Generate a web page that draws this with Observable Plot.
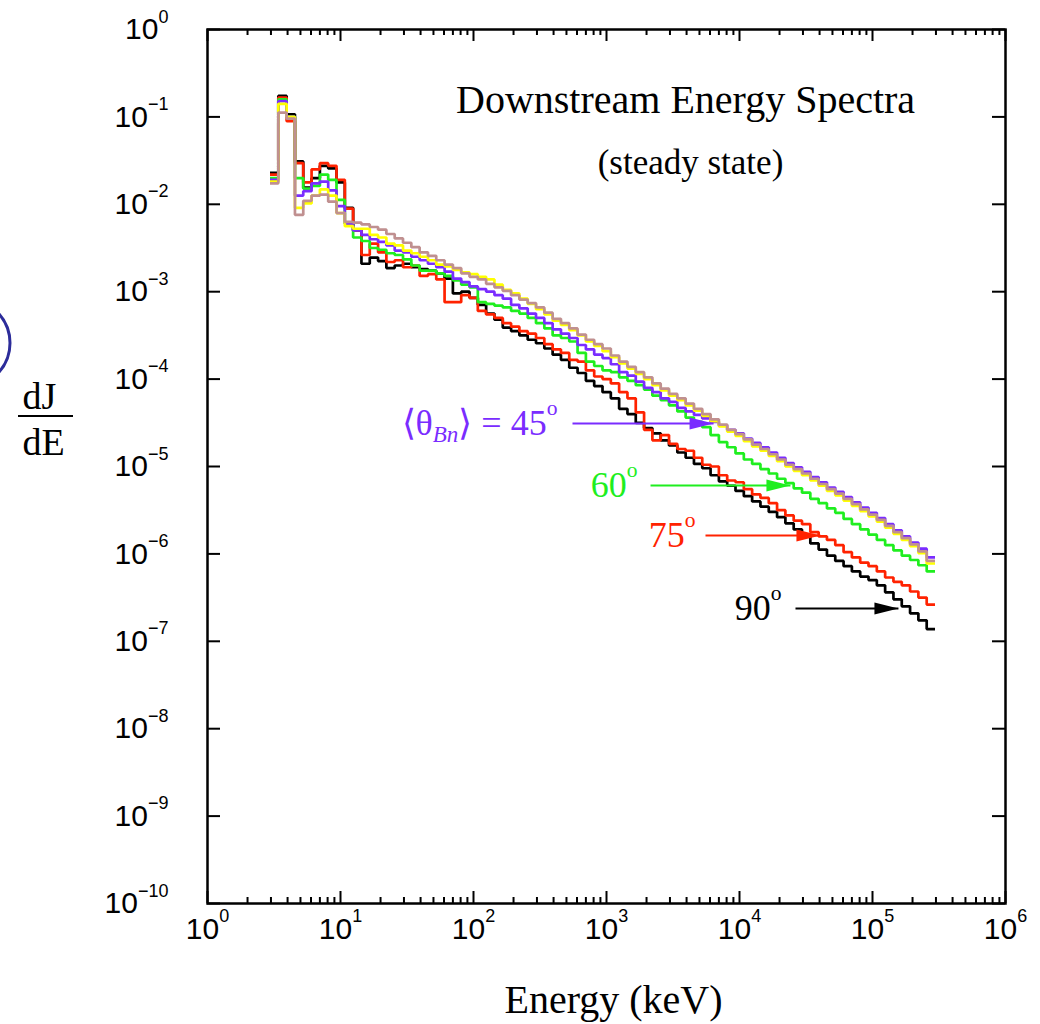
<!DOCTYPE html>
<html><head><meta charset="utf-8">
<script src="https://cdn.jsdelivr.net/npm/d3@7"></script>
<script src="https://cdn.jsdelivr.net/npm/@observablehq/plot@0.6"></script>
<style>
body{margin:0;background:#fff;}
#chart{width:1040px;height:1024px;overflow:hidden;}
</style>
</head><body><div id="chart"></div>
<script>
// ---------- data ----------
// histogram bins: log-uniform, 16 per decade, first edge at 10^0.47 keV
const binsPerDecade = 16;
const firstEdgeLog10 = 0.47;
const nBins = 80;

// log10(dJ/dE) per bin
const logFlux90 = [-1.64,-0.76,-0.97,-1.51,-1.81,-1.70,-1.56,-1.59,-1.75,-2.04,
  -2.30,-2.68,-2.61,-2.65,-2.73,-2.70,-2.68,-2.72,-2.74,-2.76,
  -2.79,-2.85,-3.02,-3.00,-3.07,-3.15,-3.25,-3.32,-3.41,-3.45,
  -3.50,-3.55,-3.59,-3.65,-3.72,-3.78,-3.87,-3.93,-4.02,-4.08,
  -4.15,-4.22,-4.34,-4.40,-4.50,-4.56,-4.62,-4.70,-4.76,-4.84,
  -4.90,-4.97,-5.02,-5.10,-5.17,-5.22,-5.28,-5.34,-5.40,-5.46,
  -5.52,-5.58,-5.65,-5.72,-5.80,-5.88,-5.95,-6.02,-6.08,-6.14,
  -6.20,-6.26,-6.30,-6.36,-6.44,-6.52,-6.60,-6.68,-6.76,-6.86];
const logFlux75 = [-1.66,-0.78,-1.05,-1.53,-1.75,-1.60,-1.53,-1.56,-1.72,-2.05,
  -2.30,-2.58,-2.45,-2.55,-2.66,-2.64,-2.72,-2.70,-2.82,-2.80,
  -2.86,-3.12,-3.12,-3.04,-3.07,-3.22,-3.26,-3.30,-3.36,-3.40,
  -3.45,-3.48,-3.53,-3.60,-3.66,-3.70,-3.78,-3.80,-3.90,-3.97,
  -4.00,-4.05,-4.15,-4.22,-4.38,-4.58,-4.70,-4.64,-4.74,-4.80,
  -4.82,-4.90,-4.98,-5.00,-5.10,-5.16,-5.18,-5.26,-5.32,-5.36,
  -5.42,-5.50,-5.56,-5.62,-5.66,-5.75,-5.80,-5.84,-5.90,-5.98,
  -6.04,-6.10,-6.14,-6.20,-6.27,-6.32,-6.36,-6.43,-6.50,-6.58];
const logFlux60 = [-1.70,-0.80,-1.00,-1.70,-1.82,-1.79,-1.66,-1.72,-1.95,-2.22,
  -2.38,-2.42,-2.50,-2.52,-2.56,-2.58,-2.63,-2.70,-2.76,-2.76,
  -2.79,-2.82,-2.87,-2.92,-2.95,-3.12,-3.14,-3.16,-3.18,-3.22,
  -3.25,-3.30,-3.36,-3.42,-3.50,-3.53,-3.57,-3.70,-3.80,-3.85,
  -3.90,-3.92,-3.98,-4.02,-4.07,-4.12,-4.19,-4.24,-4.30,-4.37,
  -4.44,-4.49,-4.55,-4.64,-4.72,-4.78,-4.85,-4.92,-4.97,-5.03,
  -5.08,-5.14,-5.19,-5.25,-5.30,-5.37,-5.42,-5.48,-5.53,-5.60,
  -5.66,-5.72,-5.78,-5.84,-5.90,-5.96,-6.02,-6.07,-6.13,-6.20];
const logFlux45 = [-1.72,-0.82,-1.00,-1.90,-1.85,-1.76,-1.74,-1.84,-2.02,-2.22,
  -2.30,-2.35,-2.40,-2.43,-2.47,-2.53,-2.55,-2.60,-2.64,-2.68,
  -2.72,-2.77,-2.85,-2.89,-2.94,-2.97,-3.00,-3.04,-3.08,-3.15,
  -3.19,-3.25,-3.30,-3.36,-3.43,-3.48,-3.53,-3.61,-3.66,-3.72,
  -3.76,-3.83,-3.92,-3.96,-4.03,-4.10,-4.15,-4.22,-4.26,-4.33,
  -4.37,-4.41,-4.45,-4.49,-4.53,-4.58,-4.62,-4.68,-4.73,-4.78,
  -4.84,-4.90,-4.96,-5.01,-5.06,-5.12,-5.18,-5.24,-5.29,-5.35,
  -5.41,-5.47,-5.53,-5.59,-5.66,-5.73,-5.80,-5.87,-5.94,-6.04];
const logFluxYellow = [-1.74,-0.85,-1.00,-2.04,-1.99,-1.90,-1.83,-1.90,-2.10,-2.25,
  -2.28,-2.28,-2.35,-2.38,-2.45,-2.47,-2.53,-2.56,-2.60,-2.64,
  -2.69,-2.71,-2.75,-2.78,-2.80,-2.83,-2.86,-2.92,-2.98,-3.02,
  -3.08,-3.14,-3.20,-3.26,-3.33,-3.38,-3.44,-3.50,-3.57,-3.62,
  -3.68,-3.75,-3.82,-3.88,-3.94,-4.00,-4.07,-4.13,-4.19,-4.24,
  -4.30,-4.36,-4.42,-4.48,-4.54,-4.60,-4.65,-4.71,-4.77,-4.82,
  -4.88,-4.94,-5.00,-5.05,-5.10,-5.16,-5.22,-5.28,-5.33,-5.39,
  -5.45,-5.51,-5.57,-5.63,-5.70,-5.77,-5.84,-5.91,-5.99,-6.11];
const logFluxRosy = [-1.76,-0.95,-1.02,-2.12,-1.96,-1.90,-1.89,-1.97,-2.10,-2.20,
  -2.21,-2.23,-2.26,-2.29,-2.34,-2.39,-2.44,-2.49,-2.55,-2.59,
  -2.64,-2.69,-2.73,-2.79,-2.83,-2.86,-2.91,-2.95,-2.99,-3.04,
  -3.09,-3.13,-3.18,-3.24,-3.31,-3.36,-3.42,-3.49,-3.55,-3.60,
  -3.65,-3.73,-3.80,-3.86,-3.92,-3.98,-4.05,-4.11,-4.17,-4.22,
  -4.28,-4.34,-4.40,-4.46,-4.52,-4.58,-4.63,-4.69,-4.75,-4.80,
  -4.86,-4.92,-4.98,-5.03,-5.08,-5.14,-5.20,-5.26,-5.31,-5.37,
  -5.43,-5.49,-5.55,-5.61,-5.68,-5.75,-5.82,-5.89,-5.97,-6.08];

const seriesNames  = ["90°", "75°", "60°", "45°", "yellow", "rosy"];
const seriesLog    = [logFlux90, logFlux75, logFlux60, logFlux45, logFluxYellow, logFluxRosy];
const seriesColors = ["#000000", "#ff2200", "#1fee1f", "#7a2cff", "#ffff00", "#c09090"];

// axis ticks
const xMajor = [1, 10, 100, 1e3, 1e4, 1e5, 1e6];
const xTickLabels = ["10^{0}", "10^{1}", "10^{2}", "10^{3}", "10^{4}", "10^{5}", "10^{6}"];
const xMinorMultipliers = [2, 3, 4, 5, 6, 7, 8, 9];
const yMajor = [1, 1e-1, 1e-2, 1e-3, 1e-4, 1e-5, 1e-6, 1e-7, 1e-8, 1e-9, 1e-10];
const yTickLabels = ["10^{0}", "10^{−1}", "10^{−2}", "10^{−3}", "10^{−4}", "10^{−5}",
  "10^{−6}", "10^{−7}", "10^{−8}", "10^{−9}", "10^{−10}"];

// annotations (energy keV, dJ/dE)
const labels = [
  {text: "⟨θ_{Bn}⟩ = 45^{o}", x: 428,   y: 3.10e-5, color: "#7a2cff"},
  {text: "60^{o}",            x: 1710,  y: 6.07e-6, color: "#1fee1f"},
  {text: "75^{o}",            x: 4670,  y: 1.62e-6, color: "#ff2200"},
  {text: "90^{o}",            x: 20700, y: 2.37e-7, color: "#000000"}
];
const arrows = [
  {x1: 555,   x2: 6380,   y: 3.10e-5, color: "#7a2cff"},
  {x1: 2143,  x2: 24150,  y: 6.07e-6, color: "#1fee1f"},
  {x1: 5550,  x2: 40600,  y: 1.62e-6, color: "#ff2200"},
  {x1: 26360, x2: 156700, y: 2.37e-7, color: "#000000"}
];

// ---------- build ----------
const edges = d3.range(nBins + 1).map(k => 10 ** (firstEdgeLog10 + k / binsPerDecade));
function stepTable(logs, name) {
  const rows = logs.map((v, k) => ({E: edges[k], flux: 10 ** v, series: name}));
  rows.push({E: edges[logs.length], flux: 10 ** logs[logs.length - 1], series: name});
  return rows;
}
const xMinor = xMajor.slice(0, -1).flatMap(d => xMinorMultipliers.map(m => d * m));
const xLab = new Map(xMajor.map((v, i) => [v, xTickLabels[i]]));
const yLab = new Map(yMajor.map((v, i) => [v, yTickLabels[i]]));

const W = 1040, H = 1024, mL = 207, mR = 35, mT = 29, mB = 121;
const fW = W - mL - mR, fH = H - mT - mB;
const serif = "'Liberation Serif','Times New Roman',Times,serif";
const sans = "'Liberation Sans',Arial,Helvetica,sans-serif";

const arrowHead = {
  draw(ctx, size) {
    const s = Math.sqrt(size / Math.PI);
    ctx.moveTo(0, 0);
    ctx.lineTo(-2.4 * s, -0.6 * s);
    ctx.lineTo(-2.4 * s, 0.6 * s);
    ctx.closePath();
  }
};

const marks = [
  Plot.axisX(xMajor, {tickSize: 0, tickPadding: 14, tickFormat: d => xLab.get(d), label: null, fontSize: 30, fontFamily: sans}),
  Plot.axisY(yMajor, {tickSize: 0, tickPadding: 39, tickFormat: d => yLab.get(d), label: null, fontSize: 30, fontFamily: sans}),
  // inward ticks on all four sides
  Plot.tickX(xMajor, {x: d => d, insetTop: fH - 12, stroke: "#000", strokeWidth: 2}),
  Plot.tickX(xMinor, {x: d => d, insetTop: fH - 6, stroke: "#000", strokeWidth: 2}),
  Plot.tickX(xMajor, {x: d => d, insetBottom: fH - 12, stroke: "#000", strokeWidth: 2}),
  Plot.tickX(xMinor, {x: d => d, insetBottom: fH - 6, stroke: "#000", strokeWidth: 2}),
  Plot.tickY(yMajor, {y: d => d, insetRight: fW - 13, stroke: "#000", strokeWidth: 2}),
  Plot.tickY(yMajor, {y: d => d, insetLeft: fW - 13, stroke: "#000", strokeWidth: 2})
];
seriesLog.forEach((logs, i) => {
  marks.push(Plot.line(stepTable(logs, seriesNames[i]), {
    x: "E", y: "flux", curve: "step-after", stroke: seriesColors[i], strokeWidth: 2.7,
    strokeLinejoin: "miter", strokeLinecap: "butt"
  }));
});
arrows.forEach(a => {
  marks.push(Plot.link([a], {x1: "x1", x2: "x2", y1: "y", y2: "y", stroke: a.color, strokeWidth: 2}));
  marks.push(Plot.dot([a], {x: "x2", y: "y", r: 10, symbol: arrowHead, fill: a.color, stroke: "none"}));
});
labels.forEach(l => {
  marks.push(Plot.text([l], {x: "x", y: "y", text: "text", fill: l.color, textAnchor: "end",
    lineAnchor: "middle", fontSize: 36, fontFamily: serif}));
});
marks.push(
  Plot.text(["Downstream Energy Spectra"], {x: () => 3930, y: () => 0.154, text: d => d,
    textAnchor: "middle", lineAnchor: "middle", fontSize: 40, fontFamily: serif, fill: "#000"}),
  Plot.text(["(steady state)"], {x: () => 4280, y: () => 0.030, text: d => d,
    textAnchor: "middle", lineAnchor: "middle", fontSize: 35, fontFamily: serif, fill: "#000"}),
  Plot.text(["Energy (keV)"], {frameAnchor: "bottom", dx: 7, dy: 97, text: d => d,
    textAnchor: "middle", lineAnchor: "middle", fontSize: 40, fontFamily: serif, fill: "#000"}),
  Plot.text(["dJ"], {frameAnchor: "left", dx: -168, dy: -70, text: d => d,
    textAnchor: "middle", lineAnchor: "middle", fontSize: 38, fontFamily: serif, fill: "#000"}),
  Plot.text(["dE"], {frameAnchor: "left", dx: -164, dy: -24, text: d => d,
    textAnchor: "middle", lineAnchor: "middle", fontSize: 38, fontFamily: serif, fill: "#000"}),
  Plot.frame({stroke: "#000", strokeWidth: 2.5})
);

const plot = Plot.plot({
  width: W, height: H,
  marginLeft: mL, marginRight: mR, marginTop: mT, marginBottom: mB,
  style: {background: "#fff", color: "#000", fontFamily: sans, fontSize: "30px", overflow: "visible"},
  x: {type: "log", domain: [1, 1e6]},
  y: {type: "log", domain: [1e-10, 1]},
  marks
});
document.getElementById("chart").appendChild(plot);

// ---------- rich text (superscripts / subscripts) ----------
function rich(el, s, fs) {
  const parts = [];
  const re = /([\^_])\{([^}]*)\}/g;
  let last = 0, m;
  while ((m = re.exec(s))) {
    if (m.index > last) parts.push(["", s.slice(last, m.index)]);
    parts.push([m[1], m[2]]);
    last = re.lastIndex;
  }
  if (last < s.length) parts.push(["", s.slice(last)]);
  el.textContent = "";
  el.setAttribute("font-size", fs);
  el.style.fontSize = fs + "px";
  let cur = 0;
  for (const [k, t] of parts) {
    const off = k === "^" ? -0.55 * fs : k === "_" ? 0.2 * fs : 0;
    const ts = document.createElementNS("http://www.w3.org/2000/svg", "tspan");
    if (off - cur !== 0) ts.setAttribute("dy", off - cur);
    cur = off;
    if (k) ts.setAttribute("font-size", (k === "_" ? 0.64 : 0.6) * fs);
    if (k === "_") ts.setAttribute("font-style", "italic");
    ts.textContent = t;
    el.appendChild(ts);
  }
}
d3.select(plot).selectAll("text").each(function () {
  const s = this.textContent;
  if (!/[\^_]\{/.test(s)) return;
  const isTick = /^10\^/.test(s);
  rich(this, s, isTick ? 30 : 36);
});

// fraction bar of the dJ/dE label and the partial circle at the left edge (slide decoration)
const svg = d3.select(plot);
svg.append("line").attr("x1", 18).attr("x2", 73).attr("y1", 416).attr("y2", 416)
  .attr("stroke", "#000").attr("stroke-width", 2.2);
svg.append("circle").attr("cx", -34).attr("cy", 343).attr("r", 44)
  .attr("fill", "none").attr("stroke", "#2c2c9a").attr("stroke-width", 3);
</script>
</body></html>
